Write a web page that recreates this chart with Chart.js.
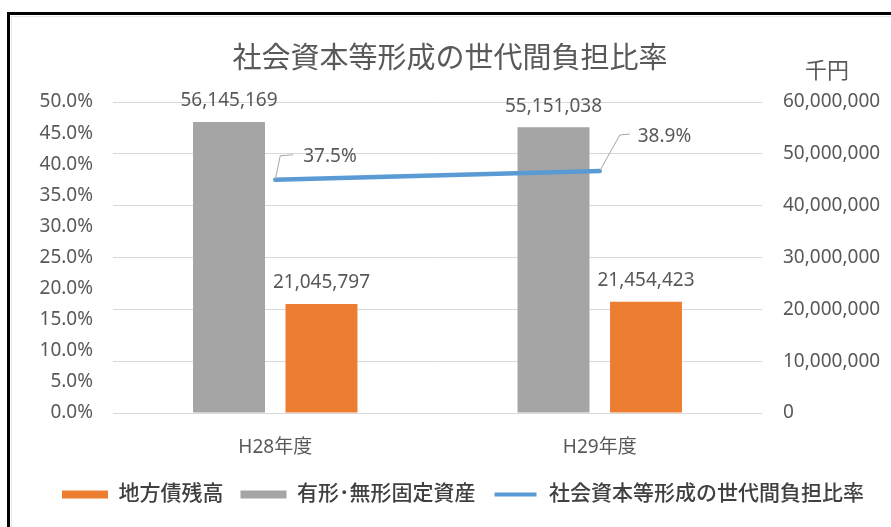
<!DOCTYPE html>
<html><head><meta charset="utf-8">
<script src="https://cdn.jsdelivr.net/npm/chart.js@4.4.0/dist/chart.umd.min.js"></script>
<style>
html,body{margin:0;padding:0;background:#fff;}
#wrap{position:relative;width:891px;height:527px;overflow:hidden;background:#fff;}
canvas{position:absolute;left:0;top:0;}
#frame{position:absolute;left:7px;top:12px;width:950px;height:650px;border-top:3px solid #000;border-left:3px solid #000;pointer-events:none;}
#inner{position:absolute;left:11px;top:16px;width:950px;height:650px;border-top:1px solid #e6e6e6;border-left:1px solid #e6e6e6;pointer-events:none;}
</style></head>
<body><div id="wrap"><canvas id="c" width="891" height="527"></canvas><div id="inner"></div><div id="frame"></div></div>
<script>
// ---- data ----
const categories = ['H28年度', 'H29年度'];
const fixedAssets = [56145169, 55151038];   // 有形・無形固定資産 (千円)
const localBonds = [21045797, 21454423];    // 地方債残高 (千円)
const burdenRatio = [37.5, 38.9];           // 社会資本等形成の世代間負担比率 (%)
const seriesNames = ['社会資本等形成の世代間負担比率', '有形･無形固定資産', '地方債残高'];
const leftAxisRange = [0, 50, 5];           // min, max, step (%)
const rightAxisRange = [0, 60000000, 10000000];
const chartTitle = '社会資本等形成の世代間負担比率';
const unitLabel = '千円';

const FONT = '"Noto Sans", "Noto Sans CJK JP", sans-serif';
const TXT = '#595959';
Chart.defaults.font.family = FONT;
Chart.defaults.color = TXT;

const PADL = 35;

const decorPlugin = {
  id: 'decor',
  afterDraw(chart) {
    const ctx = chart.ctx;
    ctx.save();
    ctx.fillStyle = TXT;
    ctx.textAlign = 'center';
    ctx.textBaseline = 'middle';
    ctx.font = '29px ' + FONT;
    ctx.fillText(chartTitle, 450, 60);
    ctx.font = '22px ' + FONT;
    ctx.fillText(unitLabel, 827, 72);
    ctx.restore();
  },
  afterDatasetsDraw(chart) {
    const ctx = chart.ctx;
    ctx.save();
    ctx.fillStyle = TXT;
    ctx.font = '19px ' + FONT;
    ctx.textAlign = 'center';
    ctx.textBaseline = 'middle';
    [1, 2].forEach(di => {
      const meta = chart.getDatasetMeta(di);
      meta.data.forEach((bar, i) => {
        ctx.fillText(chart.data.datasets[di].data[i].toLocaleString('en-US'), bar.x, bar.y - 21);
      });
    });
    // line labels with leader lines
    const offs = [
      {mx: 5, my: -24, ex: 18, ey: -25, tx: 28, ty: -23},
      {mx: 20, my: -36, ex: 30, ey: -37, tx: 38, ty: -34}
    ];
    const lm = chart.getDatasetMeta(0);
    lm.data.forEach((pt, i) => {
      const o = offs[i];
      ctx.strokeStyle = '#A6A6A6';
      ctx.lineWidth = 1;
      ctx.beginPath();
      ctx.moveTo(pt.x, pt.y);
      ctx.lineTo(pt.x + o.mx, pt.y + o.my);
      ctx.lineTo(pt.x + o.ex, pt.y + o.ey);
      ctx.stroke();
      ctx.textAlign = 'left';
      ctx.fillText(chart.data.datasets[0].data[i].toFixed(1) + '%', pt.x + o.tx, pt.y + o.ty);
    });
    ctx.restore();
  }
};

new Chart(document.getElementById('c'), {
  type: 'bar',
  data: {
    labels: categories,
    datasets: [
      {type: 'line', label: seriesNames[0], data: burdenRatio, yAxisID: 'yL',
       borderColor: '#5B9BD5', backgroundColor: '#5B9BD5', borderWidth: 4.5,
       pointRadius: 0, pointHoverRadius: 0, order: 0, borderCapStyle: 'round'},
      {label: seriesNames[1], data: fixedAssets, yAxisID: 'yR', backgroundColor: '#A5A5A5',
       order: 1, categoryPercentage: 0.57, barPercentage: 0.778},
      {label: seriesNames[2], data: localBonds, yAxisID: 'yR', backgroundColor: '#ED7D31',
       order: 2, categoryPercentage: 0.57, barPercentage: 0.778}
    ]
  },
  options: {
    responsive: false,
    animation: false,
    devicePixelRatio: 1,
    layout: {padding: {left: PADL, right: 0, top: 102, bottom: 12}},
    plugins: {
      title: {display: false},
      tooltip: {enabled: false},
      legend: {
        position: 'bottom',
        labels: {
          boxWidth: 46, boxHeight: 8, padding: 17,
          font: {size: 21, weight: '500'}, color: '#404040',
          sort: (a, b) => b.datasetIndex - a.datasetIndex,
          generateLabels(chart) {
            const items = Chart.defaults.plugins.legend.labels.generateLabels(chart);
            items.forEach(it => {
              if (it.datasetIndex === 0) {
                it.fillStyle = '#5B9BD5';
                it.strokeStyle = '#ffffff';
                it.lineWidth = 4;
                it.lineDash = [];
              } else {
                it.lineWidth = 0;
              }
            });
            return items;
          }
        }
      }
    },
    scales: {
      x: {
        grid: {display: false, drawTicks: false}, border: {display: false},
        ticks: {font: {size: 19}, padding: 23},
        afterFit(s) { s.height = 54; }
      },
      yL: {
        position: 'left', min: leftAxisRange[0], max: leftAxisRange[1],
        grid: {display: false, drawTicks: false}, border: {display: false},
        ticks: {stepSize: leftAxisRange[2], font: {size: 19}, padding: 20,
                callback: v => Number(v).toFixed(1) + '%'},
        afterFit(s) { s.width = 113 - PADL; }
      },
      yR: {
        position: 'right', min: rightAxisRange[0], max: rightAxisRange[1],
        grid: {color: '#D9D9D9', lineWidth: 1, drawTicks: false}, border: {display: false},
        ticks: {stepSize: rightAxisRange[2], font: {size: 19}, padding: 21,
                callback: v => Number(v).toLocaleString('en-US')},
        afterFit(s) { s.width = 129; }
      }
    }
  },
  plugins: [decorPlugin]
});
</script>
</body></html>
